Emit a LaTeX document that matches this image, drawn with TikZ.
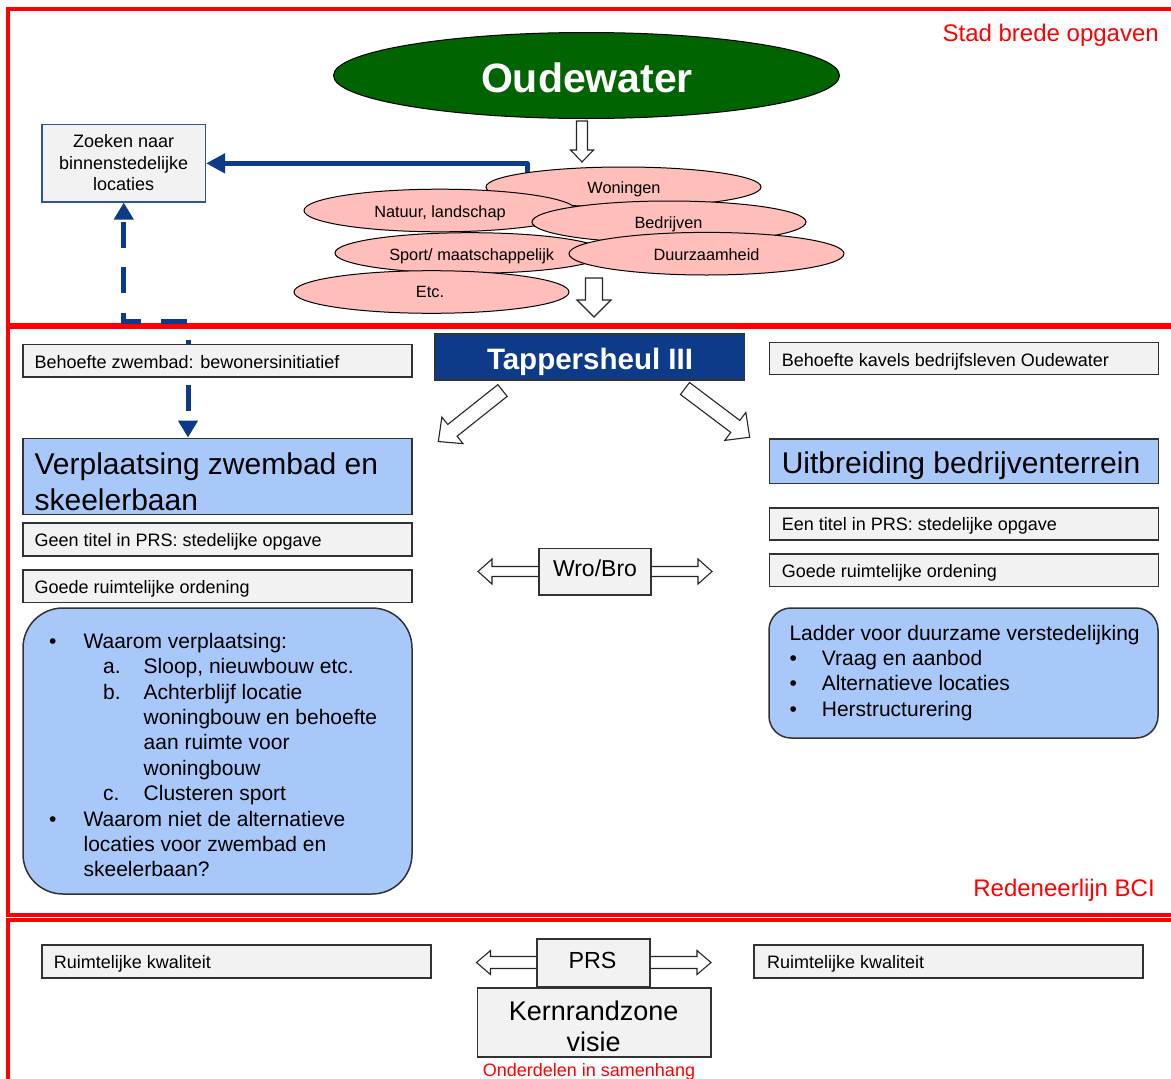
\documentclass[tikz,border=0pt]{standalone}
\usepackage{fontspec}
\setmainfont{Liberation Sans}
\usetikzlibrary{arrows.meta,shapes.geometric}
\definecolor{framered}{RGB}{255,0,0}
\definecolor{oudegreen}{RGB}{0,100,0}
\definecolor{pinkfill}{RGB}{255,190,186}
\definecolor{lightblue}{RGB}{168,200,250}
\definecolor{darkblue}{RGB}{13,59,137}
\definecolor{boxgrey}{RGB}{242,242,242}
\definecolor{boxline}{RGB}{50,50,50}
\definecolor{zoekline}{RGB}{47,85,151}
\newcommand\myfs[1]{\fontsize{#1}{#1}\selectfont}
% hollow block arrow: x, y (start), canvas angle, length, shaft width, head width, head length
\newcommand\blockarrow[7]{%
  \begin{scope}[shift={(#1,#2)}, rotate=#3]
    \draw[hollow] (0,{#5/2}) -- ({#4-#7},{#5/2}) -- ({#4-#7},{#6/2}) -- (#4,0)
      -- ({#4-#7},{-#6/2}) -- ({#4-#7},{-#5/2}) -- (0,{-#5/2}) -- cycle;
  \end{scope}}
% hollow double arrow: left tip x, right tip x, y, shaft width, head width, head length
\newcommand\dblarrow[6]{%
  \draw[hollow] (#1,#3) -- ({#1+#6},{#3-#5/2}) -- ({#1+#6},{#3-#4/2}) -- ({#2-#6},{#3-#4/2})
    -- ({#2-#6},{#3-#5/2}) -- (#2,#3) -- ({#2-#6},{#3+#5/2}) -- ({#2-#6},{#3+#4/2})
    -- ({#1+#6},{#3+#4/2}) -- ({#1+#6},{#3+#5/2}) -- cycle;}
\tikzset{
  frame/.style={draw=framered, line width=3.5pt},
  redlbl/.style={inner sep=0pt, text=framered, font=\myfs{24}},
  gbox/.style={draw=boxline, line width=1.5pt, fill=boxgrey, inner sep=0pt, minimum width=389pt},
  bbox/.style={draw=boxline, line width=1.5pt, fill=lightblue, inner sep=0pt, minimum width=389pt},
  pinkell/.style={ellipse, draw=black, line width=1pt, fill=pinkfill, inner sep=0pt},
  ltxt/.style={inner sep=0pt, anchor=base west},
  ctxt/.style={inner sep=0pt, anchor=base},
  fsmall/.style={font=\myfs{18}},
  fbig/.style={font=\myfs{30}},
  fmid/.style={font=\myfs{21}},
  fell/.style={font=\myfs{16.3}},
  hollow/.style={draw=black!85, line width=1.1pt, fill=white, line join=miter},
  bluearrow/.style={draw=darkblue, line width=5pt, line join=round, -{Triangle[width=19pt,length=19pt]}},
  dashblue/.style={draw=darkblue, line width=5pt, dash pattern=on 26pt off 19.6pt, dash phase=42.6pt,
    {Triangle[width=19pt,length=17pt]}-{Triangle[width=19pt,length=17pt]}},
}
\begin{document}
\begin{tikzpicture}[x=1pt,y=-1pt]
\useasboundingbox (0,0) rectangle (1171,1079);
\clip (0,0) rectangle (1171,1079);
\fill[white] (0,0) rectangle (1171,1079);
% frames
\draw[frame] (8.2,9) rectangle (1190,325);
\draw[frame] (8.2,327.2) rectangle (1190,915);
\draw[frame] (8.2,920) rectangle (1190,1100);
\node[redlbl, anchor=base east] (stad) at (1159,41) {Stad brede opgaven};
\node[redlbl, anchor=base east] (reden) at (1155,896) {Redeneerlijn BCI};

% Oudewater
\node[ellipse, draw=black, line width=1pt, fill=oudegreen, minimum width=506pt, minimum height=86pt, inner sep=0pt] (oude) at (586.5,75.5) {};
\node[ctxt, font={\myfs{41}\bfseries}, text=white] (oudet) at (587,92) {Oudewater};
\blockarrow{582}{121}{-90}{41}{11}{23}{12}

% Zoeken box
\node[draw=zoekline, line width=1.2pt, fill=boxgrey, minimum width=163.5pt, minimum height=77.3pt, inner sep=0pt] (zoeken) at (123.75,163.35) {};
\node[ctxt, fsmall] (z1) at (123.6,147.7) {Zoeken naar};
\node[ctxt, fsmall] (z2) at (123.6,169.3) {binnenstedelijke};
\node[ctxt, fsmall] (z3) at (123.6,190.7) {locaties};

% solid blue connector
\coordinate (wtop) at (527,178);
\draw[bluearrow] (wtop) |- (zoeken.east);

% pink ellipses
\node[pinkell, minimum width=275pt, minimum height=40pt] (won) at (623.5,187) {};
\node[pinkell, minimum width=272pt, minimum height=42.6pt] (nat) at (440,210.5) {};
\node[pinkell, minimum width=274pt, minimum height=42pt] (bed) at (669,222) {};
\node[pinkell, minimum width=270pt, minimum height=40.6pt] (spo) at (470,253) {};
\node[pinkell, minimum width=275pt, minimum height=42.6pt] (duu) at (706.5,253.7) {};
\node[pinkell, minimum width=275pt, minimum height=42.6pt] (etc) at (431.5,292) {};
\node[ctxt, fell] (wont) at (624,193.3) {Woningen};
\node[ctxt, fell] (natt) at (440,217) {Natuur, landschap};
\node[ctxt, fell] (bedt) at (668.5,228) {Bedrijven};
\node[ctxt, fell] (spot) at (471.7,260) {Sport/ maatschappelijk};
\node[ctxt, fell] (duut) at (706.5,260) {Duurzaamheid};
\node[ctxt, fell] (etct) at (430,297.7) {Etc.};
\blockarrow{594}{278}{-90}{39}{17}{34}{17}

% dashed blue connector
\coordinate (jn) at (188,321);
\node[bbox, minimum height=76pt] (verpl) at (217.5,476.3) {};
\draw[dashblue] (zoeken.south) -- (zoeken.south |- jn) -- (jn) -- (verpl.north -| jn);

% Tappersheul
\node[draw=black!80, line width=1.2pt, fill=darkblue, minimum width=309.7pt, minimum height=46pt, inner sep=0pt] (tap) at (589.9,357) {};
\node[ctxt, font={\myfs{29.5}\bfseries}, text=white] (tapt) at (590,369.3) {Tappersheul III};
\blockarrow{502.5}{390.5}{218.5}{82}{15}{34}{18}
\blockarrow{685}{388.5}{-37}{81}{15}{35}{18}

% left column
\node[gbox, minimum height=32.5pt] (bz) at (217.5,360.5) {};
\node[ltxt, fsmall] (bzt) at (34.4,368.3) {Behoefte zwembad: bewonersinitiatief};
\node[ltxt, fbig] (verpl1) at (34.4,474) {Verplaatsing zwembad en};
\node[ltxt, fbig] (verpl2) at (34.4,510.5) {skeelerbaan};
\node[gbox, minimum height=33pt] (geen) at (217.5,539.3) {};
\node[ltxt, fsmall] (geent) at (34.4,546.7) {Geen titel in PRS: stedelijke opgave};
\node[gbox, minimum height=32.3pt] (goedel) at (217.5,586.2) {};
\node[ltxt, fsmall] (goedelt) at (34.4,593.3) {Goede ruimtelijke ordening};
\node[bbox, minimum height=286pt, rounded corners=40pt] (roundl) at (217.5,751) {};
\node[ltxt, fmid] (bl1) at (49,648.3) {•};
\node[ltxt, fmid] (l1) at (83.4,648.3) {Waarom verplaatsing:};
\node[ltxt, fmid] (la) at (103,673.3) {a.};
\node[ltxt, fmid] (l2) at (143.5,673.3) {Sloop, nieuwbouw etc.};
\node[ltxt, fmid] (lb) at (103,699) {b.};
\node[ltxt, fmid] (l3) at (143.5,699) {Achterblijf locatie};
\node[ltxt, fmid] (l4) at (143.5,724.3) {woningbouw en behoefte};
\node[ltxt, fmid] (l5) at (143.5,749.8) {aan ruimte voor};
\node[ltxt, fmid] (l6) at (143.5,775.2) {woningbouw};
\node[ltxt, fmid] (lc) at (103,800.7) {c.};
\node[ltxt, fmid] (l7) at (143.5,800.7) {Clusteren sport};
\node[ltxt, fmid] (bl2) at (49,826.7) {•};
\node[ltxt, fmid] (l8) at (83.4,826.7) {Waarom niet de alternatieve};
\node[ltxt, fmid] (l9) at (83.4,851.9) {locaties voor zwembad en};
\node[ltxt, fmid] (l10) at (83.4,876.8) {skeelerbaan?};

% right column
\node[gbox, minimum height=32pt] (bk) at (963.8,358.5) {};
\node[ltxt, fsmall] (bkt) at (781.6,366) {Behoefte kavels bedrijfsleven Oudewater};
\node[bbox, minimum height=44.3pt] (uitb) at (963.8,461.2) {};
\node[ltxt, fbig] (uitbt) at (781.6,473.3) {Uitbreiding bedrijventerrein};
\node[gbox, minimum height=32.3pt] (een) at (963.8,523.9) {};
\node[ltxt, fsmall] (eent) at (781.6,530.7) {Een titel in PRS: stedelijke opgave};
\node[gbox, minimum height=32.7pt] (goeder) at (963.8,570.3) {};
\node[ltxt, fsmall] (goedert) at (781.6,577.7) {Goede ruimtelijke ordening};
\node[bbox, minimum height=130pt, rounded corners=22pt] (roundr) at (963.5,673) {};
\node[ltxt, fmid] (r1) at (789.3,640) {Ladder voor duurzame verstedelijking};
\node[ltxt, fmid] (rb1) at (789.5,665.3) {•};
\node[ltxt, fmid] (r2) at (821.7,665.3) {Vraag en aanbod};
\node[ltxt, fmid] (rb2) at (789.5,690.8) {•};
\node[ltxt, fmid] (r3) at (821.7,690.8) {Alternatieve locaties};
\node[ltxt, fmid] (rb3) at (789.5,716.3) {•};
\node[ltxt, fmid] (r4) at (821.7,716.3) {Herstructurering};

% Wro/Bro
\dblarrow{478}{712}{571.5}{10}{25}{14}
\node[draw=boxline, line width=1.5pt, fill=boxgrey, minimum width=112pt, minimum height=46.7pt, inner sep=0pt] (wro) at (595,571.7) {};
\node[ctxt, font=\myfs{23}] (wrot) at (595,576.7) {Wro/Bro};

% bottom section
\node[gbox, minimum height=32.7pt] (ruiml) at (236.7,961.4) {};
\node[ltxt, fsmall] (ruimlt) at (53.6,968.3) {Ruimtelijke kwaliteit};
\node[gbox, minimum height=32.7pt] (ruimr) at (948.5,961.4) {};
\node[ltxt, fsmall] (ruimrt) at (767,968.3) {Ruimtelijke kwaliteit};
\dblarrow{476.5}{711}{962.5}{12}{24}{14}
\node[draw=boxline, line width=1.5pt, fill=boxgrey, minimum width=113pt, minimum height=48pt, inner sep=0pt] (prs) at (593.5,963) {};
\node[ctxt, font=\myfs{23.3}] (prst) at (592.5,968.3) {PRS};
\node[draw=boxline, line width=1.5pt, fill=boxgrey, minimum width=233.5pt, minimum height=69pt, inner sep=0pt] (kern) at (594.25,1022.5) {};
\node[ctxt, font=\myfs{27}] (kern1) at (593.6,1020.7) {Kernrandzone};
\node[ctxt, font=\myfs{27}] (kern2) at (593.6,1051.7) {visie};
\node[ctxt, text=framered, font=\myfs{18}] (onder) at (589,1076.7) {Onderdelen in samenhang};
\end{tikzpicture}
\end{document}
